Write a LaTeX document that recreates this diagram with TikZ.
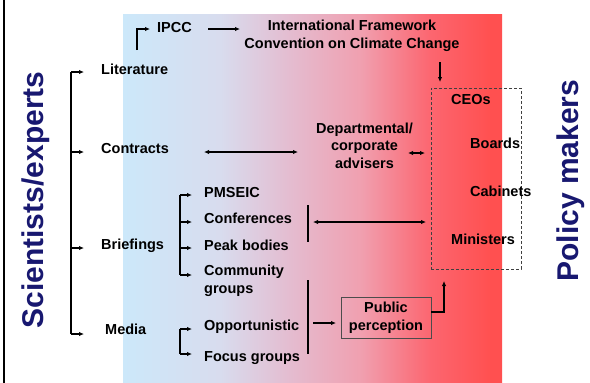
\documentclass[tikz,border=0pt]{standalone}
\usepackage{fontspec}
\setmainfont{Liberation Sans}
\usetikzlibrary{arrows.meta}

\definecolor{skyend}{RGB}{204,232,250}
\definecolor{lavmid}{RGB}{216,220,238}
\definecolor{pinkmid}{RGB}{228,188,208}
\definecolor{rosemid}{RGB}{240,160,176}
\definecolor{redmid}{RGB}{252,102,112}
\definecolor{redend}{RGB}{255,80,80}
\definecolor{navyside}{RGB}{24,24,112}

\pgfdeclarehorizontalshading{skytored}{100bp}{color(0bp)=(skyend); color(25bp)=(skyend);
  color(37.8bp)=(lavmid); color(47bp)=(pinkmid); color(56.3bp)=(rosemid);
  color(65.5bp)=(redmid); color(73.5bp)=(redend); color(100bp)=(redend)}

\begin{document}
\begin{tikzpicture}[x=1pt,y=-1pt,
    txt/.style={font=\fontsize{14.5}{17.5}\selectfont\bfseries, inner sep=0pt},
    side/.style={font=\fontsize{30}{36}\selectfont\bfseries, text=navyside, rotate=90, anchor=base, inner sep=0pt},
    arr/.style={line width=1.3pt, -{Latex[length=5pt,width=4.5pt]}},
    darr/.style={line width=1.3pt, {Latex[length=5pt,width=4.5pt]}-{Latex[length=5pt,width=4.5pt]}},
    bar/.style={line width=1.5pt}]
  \useasboundingbox (0,0) rectangle (590,383);
  \shade[shading=skytored] (123,14) rectangle (502,382);
  \draw[line width=2pt] (4,0) -- (4,383);

  % the two ends of the chain
  \node[side] (sci) at (43,200) {Scientists/experts};
  \node[side] (pol) at (578,180.5) {Policy makers};

  % channels
  \node[txt, anchor=base west] (lit) at (101,74) {Literature};
  \node[txt, anchor=base west] (con) at (101,153) {Contracts};
  \node[txt, anchor=base west] (bri) at (101,249) {Briefings};
  \node[txt, anchor=base west] (med) at (105,334) {Media};
  \coordinate (sciTop) at (71,72); \coordinate (sciBot) at (71,334);
  \draw[bar] (sciTop) -- (sciBot);
  \foreach \y in {72,152,248,334} \draw[arr] (71,\y) -- ++(13,0);

  % IPCC and the convention
  \node[txt, anchor=base west] (ipcc) at (157,32) {IPCC};
  \node[txt, align=center] (unfccc) at (352,36) {International Framework\\Convention on Climate Change};
  \coordinate (litUp) at (137,50); \coordinate (ipccIn) at (150,29);
  \draw[arr] (litUp) |- (ipccIn);
  \coordinate (ipccOut) at (208,29); \coordinate (unfcccIn) at (240,29);
  \draw[arr] (ipccOut) -- (unfcccIn);

  % policy makers box
  \node[draw=black!75, dashed, dash pattern=on 3pt off 2pt, line width=0.8pt,
        minimum width=90pt, minimum height=181pt, inner sep=0pt] (makers) at (476,178.5) {};
  \node[txt, anchor=base west] (ceo) at (451,104) {CEOs};
  \node[txt, anchor=base west] (boa) at (470,148) {Boards};
  \node[txt, anchor=base west] (cab) at (470,196) {Cabinets};
  \node[txt, anchor=base west] (min) at (451,244) {Ministers};
  \coordinate (unfcccOut) at (440,62); \coordinate (makersIn) at (440,82);
  \draw[arr] (unfcccOut) -- (makersIn);

  % advisers
  \node[txt, align=center] (adv) at (364.5,145.5) {Departmental/\\corporate\\advisers};
  \coordinate (conOut) at (204,152); \coordinate (advIn) at (298,152);
  \draw[darr] (conOut) -- (advIn);
  \coordinate (advOut) at (408,153); \coordinate (makersAdv) at (425,153);
  \draw[darr] (advOut) -- (makersAdv);

  % briefings
  \node[txt, anchor=base west] (pms) at (204,197) {PMSEIC};
  \node[txt, anchor=base west] (conf) at (204,223) {Conferences};
  \node[txt, anchor=base west] (peak) at (204,250) {Peak bodies};
  \node[txt, anchor=west, align=left] (comm) at (204,281) {Community\\groups};
  \draw[bar] (180,195) -- (180,275);
  \foreach \y in {195,222,248,275} \draw[arr] (180,\y) -- ++(12,0);
  \draw[bar] (308,205) -- (308,242);
  \coordinate (confOut) at (313,222); \coordinate (makersConf) at (426,222);
  \draw[darr] (confOut) -- (makersConf);

  % media
  \node[txt, anchor=base west] (opp) at (204,330) {Opportunistic};
  \node[txt, anchor=base west] (foc) at (204,361) {Focus groups};
  \draw[bar] (180,329) -- (180,354);
  \foreach \y in {329,354} \draw[arr] (180,\y) -- ++(12,0);
  \draw[bar] (308,280) -- (308,354);
  \node[txt, draw=black!70, line width=0.8pt, align=center, minimum width=90pt,
        minimum height=41pt] (pub) at (386,317.5) {Public\\perception};
  \coordinate (medOut) at (313,323); \coordinate (pubIn) at (336,323);
  \draw[arr] (medOut) -- (pubIn);
  \coordinate (pubUp) at (444,281);
  \draw[arr] ([yshift=5.5pt]pub.east) -| (pubUp);
\end{tikzpicture}
\end{document}
